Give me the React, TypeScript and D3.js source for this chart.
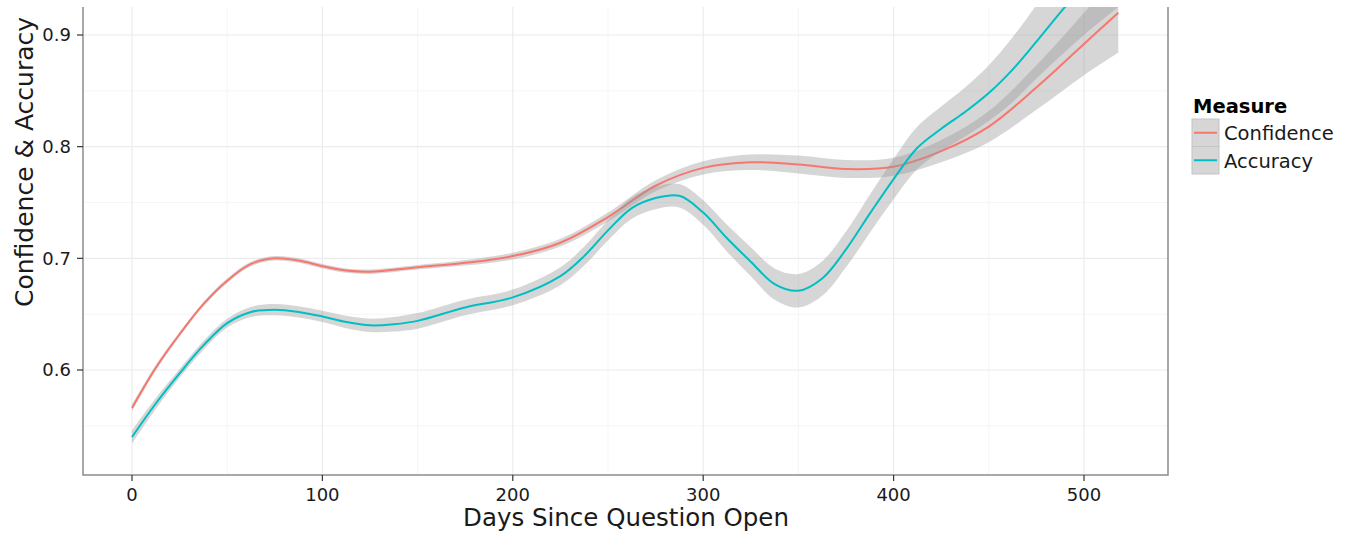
import React from "react";
import * as d3 from "d3";

const confDays = [0, 12.5, 25, 37.5, 50, 62.5, 75, 87.5, 100, 112.5, 125, 150, 175, 200, 225, 250, 275, 300, 325, 350, 375, 400, 425, 450, 475, 500, 518];
const confValues = [0.566, 0.602, 0.632, 0.659, 0.680, 0.695, 0.700, 0.698, 0.693, 0.689, 0.688, 0.692, 0.696, 0.702, 0.714, 0.737, 0.765, 0.781, 0.786, 0.784, 0.780, 0.782, 0.796, 0.818, 0.853, 0.892, 0.920];
const confHalfWidth = [0.003, 0.0025, 0.002, 0.002, 0.002, 0.002, 0.002, 0.002, 0.002, 0.002, 0.002, 0.002, 0.0025, 0.003, 0.0035, 0.004, 0.005, 0.006, 0.007, 0.008, 0.008, 0.008, 0.010, 0.014, 0.020, 0.028, 0.036];

const accDays = [0, 12.5, 25, 37.5, 50, 62.5, 75, 87.5, 100, 112.5, 125, 137.5, 150, 175, 200, 225, 237.5, 250, 262.5, 275, 287.5, 300, 312.5, 325, 337.5, 350, 362.5, 375, 387.5, 400, 412.5, 425, 437.5, 450, 462.5, 475, 487.5, 500, 518];
const accValues = [0.540, 0.570, 0.597, 0.622, 0.642, 0.652, 0.654, 0.652, 0.648, 0.643, 0.640, 0.641, 0.644, 0.656, 0.665, 0.684, 0.702, 0.725, 0.745, 0.754, 0.756, 0.741, 0.718, 0.697, 0.677, 0.671, 0.682, 0.708, 0.740, 0.771, 0.799, 0.816, 0.831, 0.848, 0.869, 0.894, 0.920, 0.945, 0.985];
const accHalfWidth = [0.006, 0.005, 0.004, 0.004, 0.004, 0.0045, 0.005, 0.005, 0.005, 0.0055, 0.006, 0.0065, 0.007, 0.007, 0.007, 0.008, 0.0085, 0.009, 0.0095, 0.010, 0.0105, 0.011, 0.012, 0.013, 0.014, 0.015, 0.0155, 0.016, 0.017, 0.018, 0.019, 0.020, 0.022, 0.025, 0.029, 0.033, 0.039, 0.045, 0.060];

const xMajorTicks = [0, 100, 200, 300, 400, 500];
const xMinorTicks = [50, 150, 250, 350, 450];
const yMajorTicks = [0.6, 0.7, 0.8, 0.9];
const yMinorTicks = [0.55, 0.65, 0.75, 0.85];
const seriesNames = ["Confidence", "Accuracy"];
const seriesColors = ["#F8766D", "#00BFC4"];

const W = 1355;
const H = 533;
const panel = { left: 83, right: 1168, top: 7, bottom: 475 };

export default function App() {
  const x = d3.scaleLinear().domain([0, 500]).range([132, 1084]);
  const y = d3.scaleLinear().domain([0.6, 0.9]).range([370, 35]);

  const mk = (days: number[], vals: number[], hw: number[]) =>
    days.map((d, i) => ({ d, v: vals[i], lo: vals[i] - hw[i], hi: vals[i] + hw[i] }));
  const series = [
    mk(confDays, confValues, confHalfWidth),
    mk(accDays, accValues, accHalfWidth),
  ];
  const curve = d3.curveCatmullRom.alpha(0.5);
  const line = d3
    .line<any>()
    .x((p) => x(p.d))
    .y((p) => y(p.v))
    .curve(curve);
  const area = d3
    .area<any>()
    .x((p) => x(p.d))
    .y0((p) => y(p.lo))
    .y1((p) => y(p.hi))
    .curve(curve);

  const font = "'DejaVu Sans', sans-serif";
  const pw = panel.right - panel.left;
  const ph = panel.bottom - panel.top;

  return (
    <svg
      width={W}
      height={H}
      style={{ position: "absolute", left: 0, top: 0, background: "#fff" }}
      fontFamily={font}
    >
      <defs>
        <clipPath id="pclip">
          <rect x={panel.left} y={panel.top} width={pw} height={ph} />
        </clipPath>
      </defs>
      {/* grid */}
      <g>
        {yMinorTicks.map((t) => (
          <line key={"ym" + t} x1={panel.left} x2={panel.right} y1={y(t)} y2={y(t)} stroke="#f5f5f5" strokeWidth={1} />
        ))}
        {xMinorTicks.map((t) => (
          <line key={"xm" + t} y1={panel.top} y2={panel.bottom} x1={x(t)} x2={x(t)} stroke="#f5f5f5" strokeWidth={1} />
        ))}
        {yMajorTicks.map((t) => (
          <line key={"yM" + t} x1={panel.left} x2={panel.right} y1={y(t)} y2={y(t)} stroke="#ececec" strokeWidth={1.2} />
        ))}
        {xMajorTicks.map((t) => (
          <line key={"xM" + t} y1={panel.top} y2={panel.bottom} x1={x(t)} x2={x(t)} stroke="#ececec" strokeWidth={1.2} />
        ))}
      </g>
      {/* data */}
      <g clipPath="url(#pclip)">
        {series.map((s, i) => (
          <g key={i}>
            <path d={area(s) || ""} fill="#999999" fillOpacity={0.4} stroke="none" />
            <path d={line(s) || ""} fill="none" stroke={seriesColors[i]} strokeWidth={2} />
          </g>
        ))}
      </g>
      {/* panel border */}
      <path
        d={`M${panel.left},${panel.top}V${panel.bottom}H${panel.right}V${panel.top}`}
        fill="none"
        stroke="#8c8c8c"
        strokeWidth={1.5}
      />
      {/* y axis */}
      {yMajorTicks.map((t) => (
        <g key={"yt" + t}>
          <line x1={panel.left - 6} x2={panel.left} y1={y(t)} y2={y(t)} stroke="#333" strokeWidth={1.2} />
          <text x={71} y={y(t)} dy="0.36em" textAnchor="end" fontSize={18} fill="#1a1a1a">
            {d3.format(".1f")(t)}
          </text>
        </g>
      ))}
      {/* x axis */}
      {xMajorTicks.map((t) => (
        <g key={"xt" + t}>
          <line x1={x(t)} x2={x(t)} y1={panel.bottom} y2={panel.bottom + 6} stroke="#333" strokeWidth={1.2} />
          <text x={x(t)} y={501} textAnchor="middle" fontSize={18} fill="#1a1a1a">
            {t}
          </text>
        </g>
      ))}
      <text x={626} y={526} textAnchor="middle" fontSize={24.5} fill="#1a1a1a">
        Days Since Question Open
      </text>
      <text transform="translate(33,162) rotate(-90)" textAnchor="middle" fontSize={25} fill="#1a1a1a">
        Confidence &amp; Accuracy
      </text>
      {/* legend */}
      <text x={1193} y={113} fontSize={19.5} fontWeight="bold" fill="#000">
        Measure
      </text>
      {seriesNames.map((name, i) => {
        const ky = 119 + i * 27.5;
        return (
          <g key={name}>
            <rect x={1192} y={ky} width={27} height={27.5} fill="#d6d6d6" stroke="#c4c4c4" strokeWidth={1} />
            <line x1={1194} x2={1217} y1={ky + 13.75} y2={ky + 13.75} stroke={seriesColors[i]} strokeWidth={2} />
            <text x={1224} y={ky + 21} fontSize={19.5} fill="#1a1a1a">
              {name}
            </text>
          </g>
        );
      })}
    </svg>
  );
}
